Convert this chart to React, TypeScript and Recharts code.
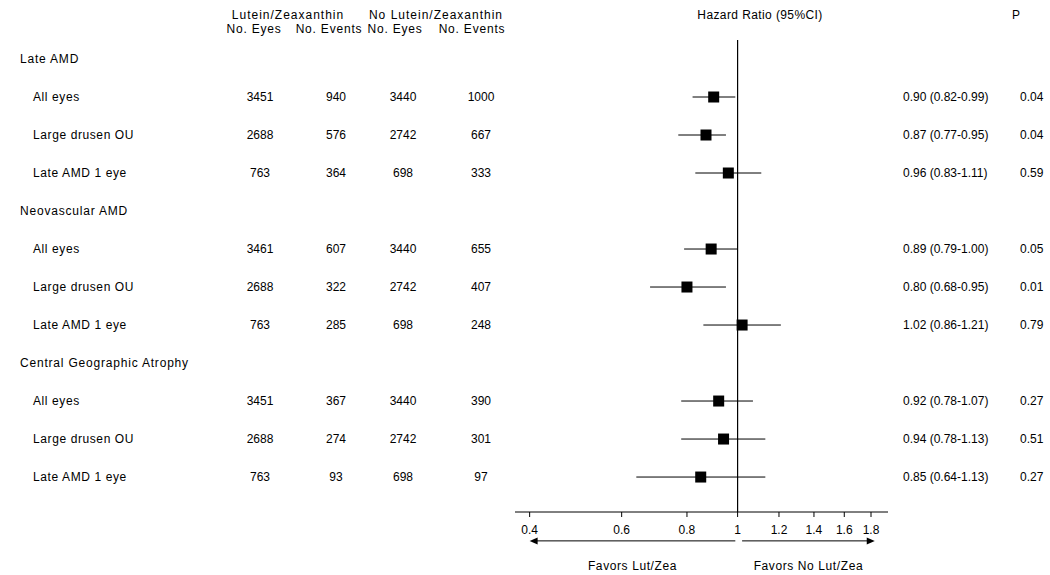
import React from "react";
import {
    ScatterChart,
    Scatter,
    XAxis,
    YAxis,
    ErrorBar,
    ReferenceLine,
    Customized
} from "recharts";

const groups = ["Late AMD", "Neovascular AMD", "Central Geographic Atrophy"];
const subgroups = ["All eyes", "Large drusen OU", "Late AMD 1 eye"];

// Lutein/Zeaxanthin arm
const lutEyes = [3451, 2688, 763, 3461, 2688, 763, 3451, 2688, 763];
const lutEvents = [940, 576, 364, 607, 322, 285, 367, 274, 93];
// No Lutein/Zeaxanthin arm
const noLutEyes = [3440, 2742, 698, 3440, 2742, 698, 3440, 2742, 698];
const noLutEvents = [1000, 667, 333, 655, 407, 248, 390, 301, 97];

const hazard = [0.90, 0.87, 0.96, 0.89, 0.80, 1.02, 0.92, 0.94, 0.85];
const ciLow = [0.82, 0.77, 0.83, 0.79, 0.68, 0.86, 0.78, 0.78, 0.64];
const ciHigh = [0.99, 0.95, 1.11, 1.00, 0.95, 1.21, 1.07, 1.13, 1.13];
const pValues = ["0.04", "0.04", "0.59", "0.05", "0.01", "0.79", "0.27", "0.51", "0.27"];

const xTicks = [0.4, 0.6, 0.8, 1, 1.2, 1.4, 1.6, 1.8];

const FONT = "'Liberation Sans', Arial, sans-serif";
const TEXT = { fontFamily: FONT, fontSize: 12, fill: "#000" };

// rows: group header at 4g, its subgroups right below
const headerRows = groups.map((label, g) => ({ x: 1, y: g * 4, label }));
const rows = hazard.map((hr, i) => {
    const g = Math.floor(i / 3);
    return {
        x: hr,
        y: g * 4 + 1 + (i % 3),
        label: subgroups[i % 3],
        err: [hr - ciLow[i], ciHigh[i] - hr],
        cols: [lutEyes[i], lutEvents[i], noLutEyes[i], noLutEvents[i]],
        hrText: `${hr.toFixed(2)} (${ciLow[i].toFixed(2)}-${ciHigh[i].toFixed(2)})`,
        p: pValues[i],
    };
});

const COL_X = [260, 336, 403, 481];

const HeaderShape = (props: any) => {
    const { cy, payload } = props;
    return (
        <text x={20} y={cy + 4} {...TEXT} letterSpacing={0.8}>
            {payload.label}
        </text>
    );
};

const RowShape = (props: any) => {
    const { cx, cy, payload } = props;
    return (
        <g>
            <rect x={cx - 5.5} y={cy - 5.5} width={11} height={11} fill="#000" />
            <text x={33} y={cy + 4} {...TEXT} letterSpacing={0.6}>
                {payload.label}
            </text>
            {payload.cols.map((v: number, k: number) => (
                <text key={k} x={COL_X[k]} y={cy + 4} textAnchor="middle" {...TEXT}>
                    {v}
                </text>
            ))}
            <text x={903} y={cy + 4} {...TEXT}>
                {payload.hrText}
            </text>
            <text x={1020} y={cy + 4} {...TEXT}>
                {payload.p}
            </text>
        </g>
    );
};

const Arrow = (dir: "left" | "right", label: string) => (props: any) => {
    const { x1, y1, x2, y2 } = props;
    const tip = dir === "left" ? Math.min(x1, x2) : Math.max(x1, x2);
    const tail = dir === "left" ? Math.max(x1, x2) : Math.min(x1, x2);
    const s = dir === "left" ? 1 : -1;
    const y = y1;
    return (
        <g>
            <line x1={tail} y1={y} x2={tip + s * 6} y2={y2} stroke="#000" strokeWidth={1} />
            <polygon points={`${tip},${y} ${tip + s * 8},${y - 3.5} ${tip + s * 8},${y + 3.5}`} fill="#000" />
            <text x={(x1 + x2) / 2} y={y + 29} textAnchor="middle" {...TEXT} letterSpacing={0.6}>
                {label}
            </text>
        </g>
    );
};

const Headers = () => (
    <g>
        <text x={288} y={19} textAnchor="middle" {...TEXT} letterSpacing={1}>Lutein/Zeaxanthin</text>
        <text x={436} y={19} textAnchor="middle" {...TEXT} letterSpacing={1}>No Lutein/Zeaxanthin</text>
        <text x={254} y={33} textAnchor="middle" {...TEXT} letterSpacing={0.8}>No. Eyes</text>
        <text x={329} y={33} textAnchor="middle" {...TEXT} letterSpacing={0.8}>No. Events</text>
        <text x={395} y={33} textAnchor="middle" {...TEXT} letterSpacing={0.8}>No. Eyes</text>
        <text x={472} y={33} textAnchor="middle" {...TEXT} letterSpacing={0.8}>No. Events</text>
        <text x={760} y={19} textAnchor="middle" {...TEXT} letterSpacing={0.4}>Hazard Ratio (95%CI)</text>
        <text x={1016} y={19} textAnchor="middle" {...TEXT}>P</text>
    </g>
);

export default function App() {
    return (
        <div style={{ position: "absolute", left: 0, top: 0, background: "#fff" }}>
            <ScatterChart
                width={1050}
                height={575}
                margin={{ top: 40, right: 162, left: 515, bottom: 33 }}
            >
                <XAxis
                    dataKey="x"
                    type="number"
                    scale="log"
                    domain={[0.375, 1.94]}
                    ticks={xTicks}
                    tickFormatter={(v: number) => String(v)}
                    height={30}
                    tickSize={5}
                    tickMargin={8}
                    stroke="#000"
                    tick={{ fill: "#000", fontSize: 12, fontFamily: FONT }}
                />
                <YAxis dataKey="y" type="number" domain={[-0.5, 11.92]} reversed hide />
                <ReferenceLine x={1} stroke="#000" strokeWidth={1.2} />
                <ReferenceLine
                    segment={[{ x: 0.4, y: 12.68 }, { x: 0.99, y: 12.68 }]}
                    ifOverflow="visible"
                    shape={Arrow("left", "Favors Lut/Zea")}
                />
                <ReferenceLine
                    segment={[{ x: 1.02, y: 12.68 }, { x: 1.83, y: 12.68 }]}
                    ifOverflow="visible"
                    shape={Arrow("right", "Favors No  Lut/Zea")}
                />
                <Scatter data={headerRows} shape={HeaderShape} isAnimationActive={false} />
                <Scatter data={rows} shape={RowShape} isAnimationActive={false}>
                    <ErrorBar dataKey="err" direction="x" width={0} stroke="#000" strokeWidth={1} />
                </Scatter>
                <Customized component={Headers} />
            </ScatterChart>
        </div>
    );
}
